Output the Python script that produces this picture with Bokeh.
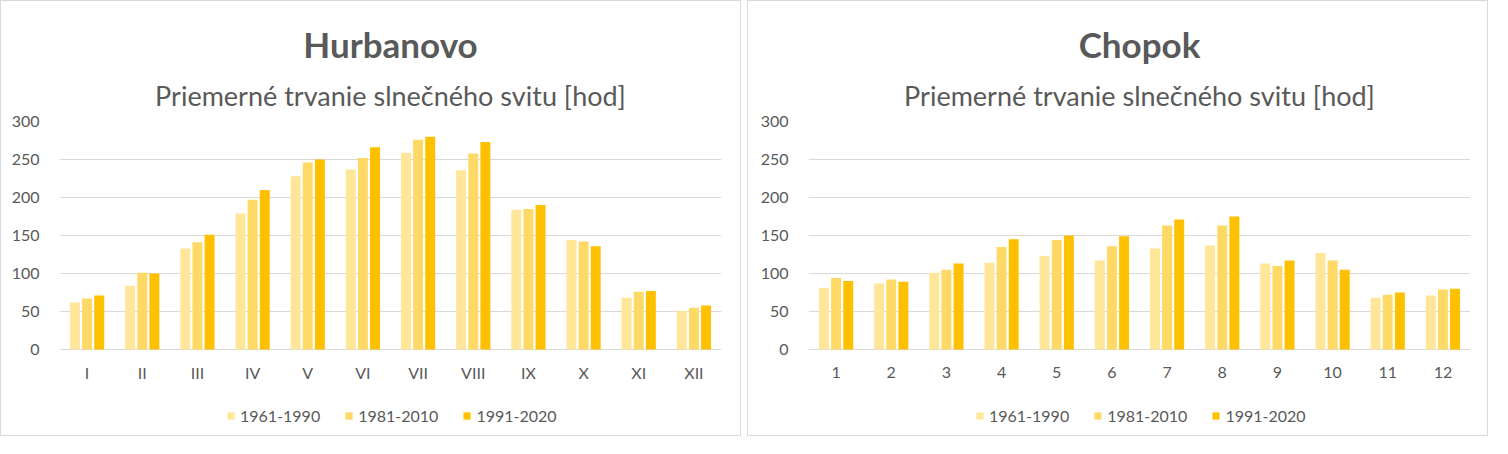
from bokeh.plotting import figure
from bokeh.models import Range1d, Title, Legend, LegendItem, ColumnDataSource
from bokeh.core.properties import value
from bokeh.transform import dodge
from bokeh.embed import file_html
from bokeh.resources import INLINE

series = ["1961-1990", "1981-2010", "1991-2020"]
colors = ["#FFE699", "#FFD966", "#FFC000"]

hurbanovo_months = ["I", "II", "III", "IV", "V", "VI", "VII", "VIII", "IX", "X", "XI", "XII"]
hurbanovo_1961_1990 = [62, 84, 133, 179, 228, 237, 259, 236, 184, 144, 68, 51]
hurbanovo_1981_2010 = [67, 101, 141, 197, 246, 252, 276, 258, 185, 142, 76, 55]
hurbanovo_1991_2020 = [71, 100, 151, 210, 250, 266, 280, 273, 190, 136, 77, 58]

chopok_months = ["1", "2", "3", "4", "5", "6", "7", "8", "9", "10", "11", "12"]
chopok_1961_1990 = [81, 87, 101, 114, 123, 117, 133, 137, 113, 127, 68, 71]
chopok_1981_2010 = [94, 92, 105, 135, 144, 136, 163, 163, 110, 117, 72, 79]
chopok_1991_2020 = [90, 89, 113, 145, 150, 149, 171, 175, 117, 105, 75, 80]

subtitle = "Priemerné trvanie slnečného svitu [hod]"
y_ticks = [0, 50, 100, 150, 200, 250, 300]

FONT = "Lato"
TXT = "#595959"
GRID = "#d9d9d9"
W, H = 741, 436
FRAME_W = 662
TOP = 120          # frame top (px)
PX_PER_UNIT = 0.76  # 300 units -> 228 px
BOTTOM_GAP = 6     # space below the frame (px)
Y_MIN = -(H - BOTTOM_GAP - TOP - 300 * PX_PER_UNIT) / PX_PER_UNIT
LABEL_Y = -23 / PX_PER_UNIT


def make_chart(station, months, values, left_border, css):
    data = {"month": months, "label_y": [LABEL_Y] * len(months)}
    for s, v in zip(series, values):
        data[s] = v
    src = ColumnDataSource(data)
    p = figure(x_range=months, y_range=Range1d(Y_MIN, 300), width=W, height=H,
               output_backend="svg", toolbar_location=None,
               min_border_left=left_border,
               min_border_right=W - left_border - FRAME_W,
               min_border_top=TOP, min_border_bottom=BOTTOM_GAP,
               title=station)
    p.title.text_font = FONT
    p.title.text_font_size = "35px"
    p.title.text_font_style = "bold"
    p.title.text_color = TXT
    p.title.align = "center"
    p.title.standoff = 4
    p.add_layout(Title(text=subtitle, align="center", text_font=FONT,
                       text_font_size="27px", text_font_style="normal",
                       text_color=TXT, standoff=20), "above")
    offsets = [-0.22, 0.0, 0.22]
    items = []
    for s, c, off in zip(series, colors, offsets):
        r = p.vbar(x=dodge("month", off, range=p.x_range), top=s, width=0.18,
                   source=src, fill_color=c, line_color=None)
        items.append(LegendItem(label=s, renderers=[r]))
    p.text(x="month", y="label_y", text="month", source=src,
           text_font=value(FONT), text_font_size="16px", text_color=TXT,
           text_align="center", text_baseline="middle")
    p.outline_line_color = None
    p.xgrid.grid_line_color = None
    p.ygrid.grid_line_color = GRID
    p.ygrid.grid_line_width = 1
    p.yaxis.ticker = y_ticks
    p.yaxis.axis_line_color = None
    p.yaxis.major_tick_line_color = None
    p.yaxis.minor_tick_line_color = None
    p.yaxis.major_label_standoff = 14
    p.yaxis.major_label_text_font = FONT
    p.yaxis.major_label_text_font_size = "16px"
    p.yaxis.major_label_text_color = TXT
    p.xaxis.visible = False
    p.x_range.range_padding = 0
    leg = Legend(items=items, orientation="horizontal",
                 border_line_color=None, background_fill_alpha=0,
                 label_text_font=FONT, label_text_font_size="16px",
                 label_text_color=TXT, glyph_width=9, glyph_height=9,
                 spacing=24, label_standoff=5, padding=4, margin=0,
                 location=(167, 6))
    p.add_layout(leg, "center")
    p.styles = css
    return p


p1 = make_chart("Hurbanovo", hurbanovo_months,
                [hurbanovo_1961_1990, hurbanovo_1981_2010, hurbanovo_1991_2020], 58,
                {"float": "left", "border": "1px solid #d9d9d9"})
p2 = make_chart("Chopok", chopok_months,
                [chopok_1961_1990, chopok_1981_2010, chopok_1991_2020], 60,
                {"float": "left", "margin-left": "6px", "border": "1px solid #d9d9d9"})

open("out.html", "w").write(file_html((p1, p2), INLINE))
